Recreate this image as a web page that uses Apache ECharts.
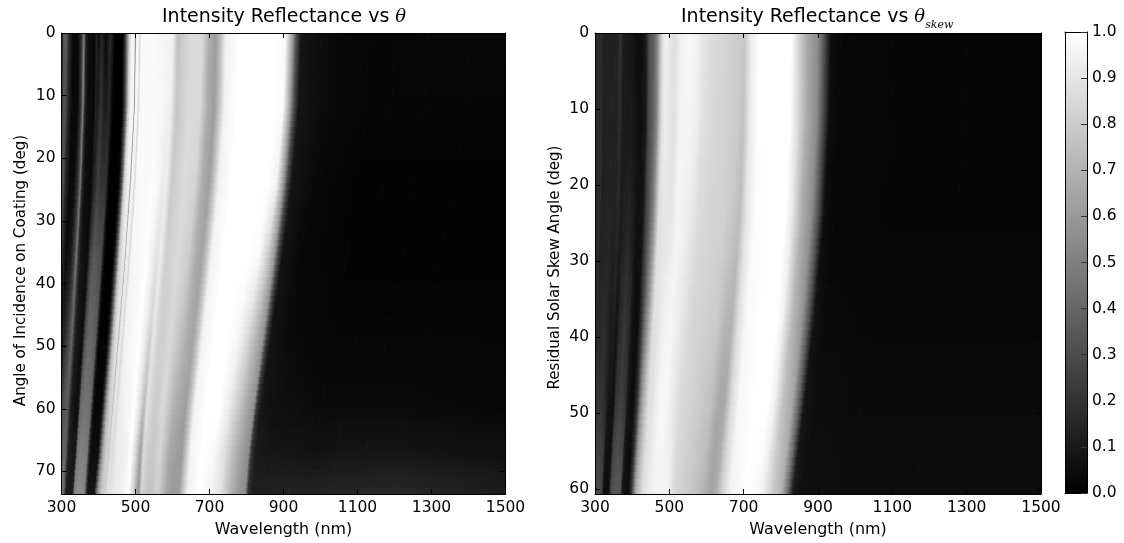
<!DOCTYPE html>
<html><head><meta charset="utf-8">
<style>html,body{margin:0;padding:0;background:#fff}#c{width:1124px;height:543px}</style>
<script src="https://cdn.jsdelivr.net/npm/echarts@6/dist/echarts.min.js"></script>
</head><body><div id="c"></div>
<script>
const leftAngles=[0,12,24,36,48,60,67,73.6];
const leftWaves=[
[300,298,292,283,273,262,256,250],[307,305,298,289,279,269,262,256],[313,311,304,295,285,274,268,261],[320,318,311,302,291,280,274,267],
[331,329,322,312,301,290,283,276],[345,343,335,325,314,302,295,288],[354,352,344,334,322,310,303,296],[361,358,351,340,329,316,309,301],
[366,363,356,345,333,320,313,306],[373,370,363,352,339,326,319,311],[391,388,380,369,356,342,334,326],[395,392,384,372,359,346,338,330],
[400,397,389,377,364,350,342,334],[409,406,398,386,372,358,350,342],[420,417,408,396,382,368,359,351],[432,429,420,407,393,378,369,361],
[438,435,426,413,399,383,374,366],[443,440,431,418,403,388,379,370],[465,462,452,438,423,407,398,388],[470,467,457,443,428,411,402,392],
[477,474,464,450,434,417,408,398],[483,480,469,455,440,423,413,403],[490,487,476,462,446,429,419,409],[497,494,483,469,452,435,425,415],
[500,497,486,472,455,438,428,418],[503,499,489,474,458,440,430,420],[508,504,494,479,462,444,434,424],[512,508,498,483,466,448,438,428],
[516,512,502,488,472,457,449,444],[530,526,516,501,485,469,461,456],[545,541,530,515,499,482,474,469],[560,556,545,529,512,496,487,482],
[575,571,559,543,526,509,500,495],[590,586,574,558,540,522,513,507],[600,596,584,567,549,531,522,516],[615,611,598,581,563,544,535,529],
[628,624,611,593,575,556,546,540],[650,645,632,614,595,575,566,559],[680,675,662,643,622,602,592,585],[700,695,681,662,641,620,609,602],
[718,713,699,679,657,635,625,617],[730,725,710,690,668,646,635,628],[745,740,725,704,682,659,648,641],[780,775,759,737,714,690,679,671],
[820,814,798,775,750,726,713,705],[850,844,827,803,778,752,740,731],[880,874,856,832,805,779,766,757],[905,899,881,855,828,801,787,778],
[925,918,900,874,846,819,805,796],[935,928,910,884,856,827,813,804],[948,941,922,896,867,839,825,815],[1000,993,973,945,915,885,870,860],
[1060,1053,1031,1002,970,938,922,912],[1130,1122,1099,1068,1034,1000,983,972],[1200,1192,1168,1134,1098,1062,1044,1032],[1290,1281,1255,1219,1180,1142,1122,1109],
[1400,1390,1362,1323,1281,1239,1218,1204],[1520,1520,1520,1520,1520,1520,1520,1520]];
const leftValues=[
[.1,.1,.1,.1,.1,.1,.1,.1],[.35,.3,.3,.3,.3,.3,.3,.3],[.35,.3,.3,.3,.3,.3,.3,.3],[.18,.15,.15,.15,.15,.15,.15,.15],
[.03,.03,.03,.04,.1,.1,.1,.1],[.03,.03,.05,.1,.2,.3,.3,.4],[.2,.2,.2,.25,.3,.35,.35,.45],[.5,.5,.45,.45,.4,.35,.4,.45],
[.15,.15,.15,.2,.25,.25,.3,.4],[.05,.05,.05,.08,.1,.1,.12,.12],[.03,.03,.03,.05,.05,.05,.08,.1],[.15,.12,.1,.1,.1,.1,.12,.15],
[.05,.1,.15,.25,.3,.4,.45,.5],[.15,.2,.25,.35,.4,.45,.5,.55],[.03,.1,.2,.33,.4,.45,.5,.55],[.15,.15,.2,.3,.35,.42,.48,.52],
[.1,.05,.05,.08,.1,.15,.2,.25],[0,0,0,0,.01,.03,.05,.08],[0,0,0,0,.01,.03,.05,.08],[.12,.1,.08,.1,.1,.12,.2,.3],
[.45,.4,.4,.4,.4,.45,.5,.6],[.8,.8,.8,.75,.72,.7,.68,.68],[.96,.96,.92,.88,.85,.8,.78,.78],[.97,.97,.95,.92,.9,.85,.83,.82],
[.55,.6,.65,.7,.72,.75,.78,.8],[.97,.97,.95,.92,.9,.87,.85,.85],[.97,.97,.95,.93,.92,.9,.88,.88],[.85,.85,.85,.85,.85,.85,.85,.88],
[.98,.98,.97,.96,.95,.93,.92,.92],[.98,.98,.98,.97,.96,.95,.93,.93],[.98,.98,.98,.98,.98,.97,.95,.96],[.97,.98,.99,1,1,1,1,1],
[.96,.97,.97,.95,.93,.9,.85,.8],[.96,.95,.92,.88,.82,.72,.62,.56],[.95,.93,.93,.93,.9,.88,.85,.84],[.75,.77,.79,.81,.82,.82,.8,.78],
[.8,.81,.82,.82,.81,.8,.78,.76],[.86,.86,.86,.86,.85,.85,.84,.82],[.85,.85,.83,.8,.76,.7,.66,.64],[.67,.67,.67,.68,.68,.65,.62,.6],
[.61,.61,.62,.64,.64,.62,.6,.62],[.75,.75,.75,.75,.75,.75,.75,.78],[.95,.95,.95,.95,.95,.95,.95,.95],[1,1,1,1,1,1,1,1],
[1,1,1,1,1,1,.98,.95],[1,1,1,1,.97,.92,.88,.88],[1,1,1,.98,.85,.78,.72,.7],[.98,.98,.95,.82,.7,.65,.62,.6],
[.6,.6,.6,.6,.58,.57,.55,.55],[.3,.3,.28,.28,.25,.2,.2,.2],[.08,.08,.08,.07,.07,.08,.1,.12],[.05,.05,.04,.03,.04,.06,.08,.13],
[.03,.03,.02,.02,.03,.05,.08,.14],[.02,.02,.01,.01,.02,.04,.07,.13],[.02,.02,.01,.01,.02,.04,.08,.15],[.03,.02,.01,.01,.02,.04,.08,.15],
[.03,.02,.01,.01,.02,.04,.08,.16],[.03,.02,.01,.01,.02,.03,.06,.11]];
const rightAngles=[0,12,24,36,48,60.6];
const rightWaves=[
[295,294,289,282,273,263],[305,303,299,291,282,271],[319,317,313,305,295,284],[323,321,317,308,299,287],
[345,343,338,329,319,307],[355,353,348,339,328,316],[363,361,356,347,336,323],[368,366,361,351,340,328],
[378,376,370,361,350,336],[385,383,377,368,356,343],[399,397,391,381,369,355],[413,411,405,394,382,368],
[418,416,410,399,387,372],[428,426,419,409,396,381],[438,436,429,418,405,390],[446,444,437,426,413,397],
[458,456,449,437,424,408],[467,465,458,446,432,416],[475,473,466,454,439,423],[482,480,472,460,446,429],
[490,488,480,468,453,436],[502,499,492,479,464,447],[515,512,505,492,476,458],[533,530,522,509,493,474],
[556,553,545,531,514,495],[575,572,564,549,532,512],[591,588,579,564,547,526],[627,624,614,599,580,558],
[660,657,647,630,611,587],[685,682,671,654,634,610],[703,699,689,671,650,626],[721,717,707,689,667,642],
[745,741,730,711,689,663],[790,786,774,754,731,703],[828,824,811,791,766,737],[846,842,829,808,783,753],
[873,869,856,834,808,777],[900,896,882,860,833,801],[918,913,900,877,849,817],[935,930,916,893,865,832],
[960,955,941,917,888,854],[1100,1095,1078,1051,1018,979],[1300,1294,1274,1242,1203,1157],[1520,1520,1520,1520,1520,1520]];
const rightValues=[
[.17,.17,.17,.17,.17,.17],[.17,.17,.17,.17,.17,.2],[.17,.17,.17,.17,.2,.25],[.13,.13,.13,.15,.2,.27],
[.13,.13,.14,.16,.2,.3],[.13,.13,.13,.12,.15,.28],[.14,.14,.13,.1,.08,.06],[.2,.18,.16,.13,.08,.05],
[.1,.1,.1,.08,.06,.06],[.1,.1,.12,.15,.2,.3],[.09,.1,.14,.2,.25,.35],[.06,.07,.1,.15,.2,.33],
[.06,.06,.07,.09,.1,.1],[.06,.06,.06,.05,.05,.05],[.12,.1,.08,.06,.06,.06],[.3,.28,.25,.2,.18,.2],
[.38,.38,.4,.45,.55,.65],[.5,.5,.55,.62,.7,.75],[.72,.74,.75,.78,.8,.82],[.87,.88,.88,.88,.88,.88],
[.95,.93,.9,.88,.88,.9],[.9,.9,.9,.92,.93,.93],[.87,.88,.9,.95,.97,.95],[.95,.96,.96,.96,.97,.96],
[.97,.96,.94,.92,.9,.95],[.95,.94,.9,.87,.85,.85],[.9,.88,.86,.84,.84,.82],[.85,.84,.83,.82,.8,.78],
[.82,.82,.82,.8,.76,.72],[.8,.8,.78,.72,.66,.63],[.78,.76,.74,.7,.66,.68],[.93,.92,.9,.88,.85,.82],
[1,1,.99,.98,.97,.95],[1,1,1,1,1,1],[1,1,1,1,1,.98],[.85,.88,.92,.95,.95,.93],
[.65,.67,.68,.72,.75,.8],[.55,.55,.56,.58,.65,.7],[.3,.3,.32,.35,.4,.45],[.05,.05,.05,.07,.08,.1],
[.03,.03,.03,.04,.05,.06],[.02,.02,.02,.03,.04,.05],[.02,.02,.02,.03,.04,.05],[.02,.02,.02,.03,.04,.05]];
const waveTicks=[300,1500];
const leftMaxAngle=73.6, rightMaxAngle=60.6;
const barLevels=[0,1];

const FONT='"DejaVu Sans"';
function grey(v){const g=Math.round(Math.max(0,Math.min(1,v))*255);return 'rgb('+g+','+g+','+g+')';}
function cells(angles,waves,vals){
  const out=[];
  for(let i=0;i<angles.length-1;i++)for(let k=0;k<waves.length-1;k++){
    out.push([angles[i],angles[i+1],waves[k][i],waves[k+1][i],waves[k][i+1],waves[k+1][i+1],
      vals[k][i],vals[k+1][i],vals[k][i+1],vals[k+1][i+1]]);
  }
  return out;
}
// One read cell is shaded between its four read corners in one-degree slabs, the raster rows the reference shows.
function renderCell(params,api){
  const ta=api.value(0),tb=api.value(1),mix=(p,q,t)=>p+(q-p)*t;
  const n=Math.max(1,Math.round(tb-ta)),children=[];
  for(let j=0;j<n;j++){
    const t=(j+.5)/n,x0=mix(api.value(2),api.value(4),t),x1=mix(api.value(3),api.value(5),t);
    const v0=mix(api.value(6),api.value(8),t),v1=mix(api.value(7),api.value(9),t);
    const p=api.coord([x0,mix(ta,tb,j/n)]),q=api.coord([x1,mix(ta,tb,(j+1)/n)]);
    const y0=Math.round(p[1]),y1=Math.round(q[1]);
    children.push({type:'rect',shape:{x:p[0],y:y0,width:q[0]-p[0]+0.7,height:y1-y0},
      style:{fill:{type:'linear',global:true,x:p[0],y:0,x2:Math.max(q[0],p[0]+0.01),y2:0,
        colorStops:[{offset:0,color:grey(v0)},{offset:1,color:grey(v1)}]}}});
  }
  return {type:'group',children:children};
}
function renderBar(params,api){
  const a=api.coord([0,api.value(1)]),b=api.coord([1,api.value(0)]);
  return {type:'rect',shape:{x:a[0],y:a[1],width:b[0]-a[0],height:b[1]-a[1]},
    style:{fill:{type:'linear',global:true,x:0,y:b[1],x2:0,y2:a[1],
      colorStops:[{offset:0,color:grey(api.value(0))},{offset:1,color:grey(api.value(1))}]}}};
}
const LINE={show:true,onZero:false,lineStyle:{color:'#000',width:1}};
const TICK={show:true,inside:true,length:5,lineStyle:{color:'#000',width:1}};
const LABEL={color:'#000',fontFamily:FONT,fontSize:15.5,margin:6};
function xPair(g,min,max){return [
 {gridIndex:g,type:'value',min:min,max:max,interval:200,position:'bottom',axisLine:LINE,axisTick:TICK,
  axisLabel:Object.assign({},LABEL,{formatter:v=>String(v)}),splitLine:{show:false},
  name:'Wavelength (nm)',nameLocation:'middle',nameGap:28,nameTextStyle:{color:'#000',fontFamily:FONT,fontSize:15.9},z:10},
 {gridIndex:g,type:'value',min:min,max:max,interval:200,position:'top',axisLine:LINE,axisTick:TICK,axisLabel:{show:false},splitLine:{show:false},z:10}];}
function yPair(g,max,name,gap,shift){return [
 {gridIndex:g,type:'value',inverse:true,min:0,max:max,interval:10,position:'left',axisLine:LINE,axisTick:TICK,
  axisLabel:Object.assign({},LABEL,{showMaxLabel:false}),splitLine:{show:false},
  name:name,nameLocation:'middle',nameRotate:90,nameGap:gap,nameTextStyle:{color:'#000',fontFamily:FONT,fontSize:15.1,padding:[0,shift,0,0]},z:10},
 {gridIndex:g,type:'value',inverse:true,min:0,max:max,interval:10,position:'right',axisLine:LINE,axisTick:TICK,axisLabel:{show:false},splitLine:{show:false},z:10}];}
const titleRich={t:{fontFamily:'"DejaVu Serif"',fontStyle:'italic',fontSize:18,color:'#000',lineHeight:28},
  s:{fontFamily:'"DejaVu Serif"',fontStyle:'italic',fontSize:11,color:'#000',verticalAlign:'bottom',lineHeight:28}};
const titleStyle={fontFamily:FONT,fontSize:19,fontWeight:'normal',color:'#000',lineHeight:28,rich:titleRich};
const option={animation:false,backgroundColor:'#fff',
 title:[
  {text:'Intensity Reflectance vs {t|θ}',left:162,top:3,padding:0,textStyle:titleStyle},
  {text:'Intensity Reflectance vs {t|θ}{s|skew}',left:681,top:3,padding:0,textStyle:titleStyle}],
 grid:[{left:61.5,top:33,width:444,height:461},{left:595,top:33,width:446,height:461},{left:1065,top:32,width:22,height:461}],
 xAxis:[...xPair(0,waveTicks[0],waveTicks[1]),...xPair(1,waveTicks[0],waveTicks[1]),
  {gridIndex:2,type:'value',min:0,max:1,position:'bottom',axisLine:LINE,axisTick:{show:false},axisLabel:{show:false},splitLine:{show:false},z:10},
  {gridIndex:2,type:'value',min:0,max:1,position:'top',axisLine:LINE,axisTick:{show:false},axisLabel:{show:false},splitLine:{show:false},z:10}],
 yAxis:[...yPair(0,leftMaxAngle,'Angle of Incidence on Coating (deg)',33,14),...yPair(1,rightMaxAngle,'Residual Solar Skew Angle (deg)',32,8),
  {gridIndex:2,type:'value',min:0,max:1,position:'left',axisLine:LINE,axisTick:{show:false},axisLabel:{show:false},splitLine:{show:false},z:10},
  {gridIndex:2,type:'value',min:0,max:1,interval:0.1,position:'right',axisLine:LINE,
   axisTick:{show:true,inside:true,length:6,lineStyle:{color:'#333',width:1}},
   axisLabel:Object.assign({},LABEL,{margin:5,formatter:v=>v.toFixed(1)}),splitLine:{show:false},z:10}],
 series:[
  {type:'custom',coordinateSystem:'cartesian2d',xAxisIndex:0,yAxisIndex:0,clip:true,silent:true,renderItem:renderCell,data:cells(leftAngles,leftWaves,leftValues)},
  {type:'custom',coordinateSystem:'cartesian2d',xAxisIndex:2,yAxisIndex:2,clip:true,silent:true,renderItem:renderCell,data:cells(rightAngles,rightWaves,rightValues)},
  {type:'custom',coordinateSystem:'cartesian2d',xAxisIndex:4,yAxisIndex:4,clip:true,silent:true,renderItem:renderBar,data:[barLevels]}
 ]};
echarts.init(document.getElementById('c'),null,{renderer:'canvas'}).setOption(option);
</script></body></html>
